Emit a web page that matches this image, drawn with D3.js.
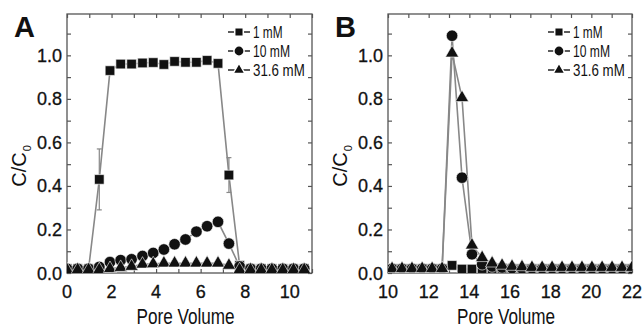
<!DOCTYPE html>
<html>
<head>
<meta charset="utf-8">
<script src="https://cdn.jsdelivr.net/npm/d3@7"></script>
<style>
  body { margin: 0; background: #fff; }
  text { font-family: "Liberation Sans", Arial, sans-serif; fill: #111; }
</style>
</head>
<body>
<div class="board"></div>
<script>
// data
const seriesNames = ['1 mM', '10 mM', '31.6 mM'];

// panel A
const pvA = [0, 0.48, 0.97, 1.45, 1.93, 2.41, 2.9, 3.39, 3.87, 4.35, 4.83, 5.32, 5.81, 6.29, 6.78, 7.27, 7.75, 8.24, 8.72, 9.2, 9.69, 10.17, 10.65];
const a1mM = [0.02, 0.02, 0.02, 0.43, 0.93, 0.96, 0.96, 0.965, 0.967, 0.958, 0.972, 0.968, 0.968, 0.977, 0.963, 0.45, 0.035, 0.02, 0.02, 0.02, 0.02, 0.02, 0.02];
const a1mMErr = [0, 0, 0, 0.14, 0.01, 0, 0, 0, 0, 0, 0, 0, 0, 0, 0.01, 0.08, 0, 0, 0, 0, 0, 0, 0];
const a10mM = [0.02, 0.02, 0.02, 0.028, 0.05, 0.059, 0.063, 0.078, 0.092, 0.108, 0.132, 0.154, 0.19, 0.215, 0.235, 0.135, 0.03, 0.02, 0.02, 0.02, 0.02, 0.02, 0.02];
const a316mM = [0.015, 0.015, 0.015, 0.015, 0.02, 0.025, 0.03, 0.04, 0.042, 0.045, 0.045, 0.045, 0.045, 0.045, 0.045, 0.035, 0.015, 0.015, 0.015, 0.015, 0.015, 0.015, 0.015];

// panel B
const pvB = [10.2, 10.69, 11.18, 11.68, 12.17, 12.66, 13.15, 13.64, 14.13, 14.63, 15.12, 15.61, 16.1, 16.59, 17.08, 17.58, 18.07, 18.56, 19.05, 19.54, 20.03, 20.53, 21.02, 21.51, 22.0];
const b1mM = [0.02, 0.02, 0.02, 0.02, 0.02, 0.02, 0.035, 0.018, 0.018, 0.02, 0.02, 0.02, 0.02, 0.02, 0.02, 0.02, 0.02, 0.02, 0.02, 0.02, 0.02, 0.02, 0.02, 0.02, 0.02];
const b10mM = [0.02, 0.02, 0.02, 0.02, 0.02, 0.02, 1.09, 0.438, 0.086, 0.04, 0.03, 0.025, 0.022, 0.02, 0.02, 0.02, 0.02, 0.02, 0.02, 0.02, 0.02, 0.02, 0.02, 0.02, 0.02];
const b316mM = [0.02, 0.02, 0.02, 0.02, 0.02, 0.02, 1.01, 0.805, 0.128, 0.07, 0.045, 0.035, 0.03, 0.028, 0.025, 0.025, 0.025, 0.025, 0.025, 0.025, 0.025, 0.025, 0.025, 0.025, 0.025];

const yTicks = [0, 0.2, 0.4, 0.6, 0.8, 1.0];
const xTicksA = [0, 2, 4, 6, 8, 10];
const xTicksB = [10, 12, 14, 16, 18, 20, 22];

const W = 642, H = 328;
const svg = d3.select('.board').append('svg')
    .attr('width', W)
    .attr('height', H);

const symbols = [d3.symbolSquare, d3.symbolCircle, d3.symbolTriangle];
const symSize = [92, 104, 76];

function panel(opt) {
    const x = d3.scaleLinear().domain(opt.xDomain).range([opt.left, opt.right]);
    const y = d3.scaleLinear().domain([0, 1.19]).range([273, 14]);
    const g = svg.append('g');

    const clipId = 'clip' + opt.letter;
    svg.append('clipPath').attr('id', clipId)
        .append('rect')
        .attr('x', opt.left).attr('y', 14)
        .attr('width', opt.right - opt.left).attr('height', 273 - 14);

    // ticks, inside, on four sides
    const minorX = d3.range(opt.xDomain[0], opt.xDomain[1] + 0.01, 1);
    const minorY = d3.range(0, 1.19, 0.1);
    g.append('g').attr('transform', `translate(0,273)`)
        .call(d3.axisBottom(x).tickValues(minorX).tickSize(-4).tickFormat(''))
        .call(a => a.select('.domain').remove());
    g.append('g').attr('transform', `translate(0,14)`)
        .call(d3.axisTop(x).tickValues(minorX).tickSize(-4).tickFormat(''))
        .call(a => a.select('.domain').remove());
    g.append('g').attr('transform', `translate(${opt.left},0)`)
        .call(d3.axisLeft(y).tickValues(minorY).tickSize(-4).tickFormat(''))
        .call(a => a.select('.domain').remove());
    g.append('g').attr('transform', `translate(${opt.right},0)`)
        .call(d3.axisRight(y).tickValues(minorY).tickSize(-4).tickFormat(''))
        .call(a => a.select('.domain').remove());
    g.selectAll('.tick line').attr('stroke', '#555').attr('stroke-width', 1.2);

    // tick labels
    g.selectAll('.xl').data(opt.xTicks).enter().append('text')
        .attr('x', d => x(d)).attr('y', 298)
        .attr('text-anchor', 'middle')
        .attr('font-size', 18)
        .attr('stroke', '#111').attr('stroke-width', 0.3)
        .text(d => d);
    g.selectAll('.yl').data(yTicks).enter().append('text')
        .attr('x', opt.left - 5).attr('y', d => y(d) + 6.5)
        .attr('text-anchor', 'end')
        .attr('font-size', 18)
        .attr('stroke', '#111').attr('stroke-width', 0.3)
        .text(d => d.toFixed(1));

    // frame
    g.append('rect')
        .attr('x', opt.left).attr('y', 14)
        .attr('width', opt.right - opt.left).attr('height', 273 - 14)
        .attr('fill', 'none').attr('stroke', '#555').attr('stroke-width', 1.3);

    const plot = svg.append('g').attr('clip-path', `url(#${clipId})`);

    // connecting lines
    const line = d3.line().x(d => x(d[0])).y(d => y(d[1]));
    opt.series.forEach((s, k) => {
        plot.append('path')
            .datum(opt.pv.map((p, i) => [p, s[i]]))
            .attr('d', line)
            .attr('fill', 'none')
            .attr('stroke', '#888')
            .attr('stroke-width', 1.6);
    });

    // error bars
    if (opt.err) {
        opt.pv.forEach((p, i) => {
            const e = opt.err[i];
            if (!e) return;
            const v = opt.series[0][i];
            plot.append('line')
                .attr('x1', x(p)).attr('x2', x(p))
                .attr('y1', y(v - e)).attr('y2', y(v + e))
                .attr('stroke', '#888').attr('stroke-width', 1.2);
            [v - e, v + e].forEach(t => plot.append('line')
                .attr('x1', x(p) - 2.5).attr('x2', x(p) + 2.5)
                .attr('y1', y(t)).attr('y2', y(t))
                .attr('stroke', '#888').attr('stroke-width', 1.2));
        });
    }

    // markers
    opt.series.forEach((s, k) => {
        plot.selectAll(null).data(opt.pv.map((p, i) => [p, s[i]])).enter()
            .append('path')
            .attr('d', d3.symbol().type(symbols[k]).size(symSize[k]))
            .attr('transform', d => `translate(${x(d[0])},${y(d[1])})`)
            .attr('fill', '#111')
            .attr('stroke', '#fff')
            .attr('stroke-width', 0.6);
    });

    // legend
    seriesNames.forEach((n, k) => {
        const ly = 32 + k * 19;
        const lx = opt.right - 84;
        g.append('line')
            .attr('x1', lx).attr('x2', lx + 22)
            .attr('y1', ly).attr('y2', ly)
            .attr('stroke', '#333').attr('stroke-width', 1.6);
        g.append('path')
            .attr('d', d3.symbol().type(symbols[k]).size(symSize[k] * 0.8))
            .attr('transform', `translate(${lx + 11},${ly})`)
            .attr('fill', '#111').attr('stroke', '#fff').attr('stroke-width', 1.5);
        g.append('text')
            .attr('x', lx + 25).attr('y', ly + 5.5)
            .attr('font-size', 16)
            .attr('textLength', n.length * 7.4)
            .attr('lengthAdjust', 'spacingAndGlyphs')
            .text(n);
    });

    // axis titles and panel letter
    const cx = (opt.left + opt.right) / 2 - 4;
    g.append('text')
        .attr('x', cx).attr('y', 324)
        .attr('text-anchor', 'middle')
        .attr('font-size', 22)
        .attr('textLength', 98)
        .attr('lengthAdjust', 'spacingAndGlyphs')
        .text('Pore Volume');
    const yt = g.append('text')
        .attr('transform', `translate(${opt.left - 41},166) rotate(-90)`)
        .attr('text-anchor', 'middle')
        .attr('font-size', 20);
    yt.append('tspan').text('C/C');
    yt.append('tspan').attr('font-size', 11).attr('dy', 5).attr('dx', 1).text('0');
    g.append('text')
        .attr('x', opt.left - 53).attr('y', 37)
        .attr('font-size', 29)
        .attr('font-weight', 'bold')
        .text(opt.letter);
}

panel({ letter: 'A', left: 67, right: 312, xDomain: [0, 11], xTicks: xTicksA, pv: pvA,
        series: [a1mM, a10mM, a316mM], err: a1mMErr });
panel({ letter: 'B', left: 388, right: 632, xDomain: [10, 22], xTicks: xTicksB, pv: pvB,
        series: [b1mM, b10mM, b316mM] });
</script>
</body>
</html>
